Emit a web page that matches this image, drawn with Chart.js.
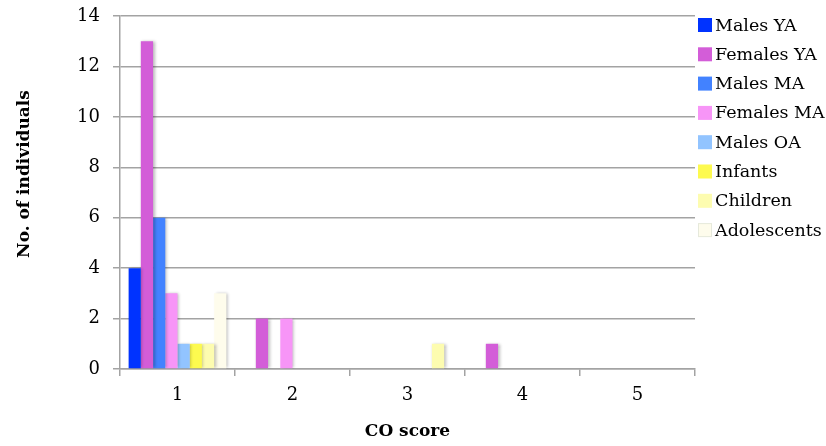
<!DOCTYPE html>
<html>
<head>
<meta charset="utf-8">
<script src="https://cdn.jsdelivr.net/npm/chart.js@4"></script>
<style>
  body { margin: 0; background: #fff; }
</style>
</head>
<body>
<canvas id="coChart" width="826" height="446"></canvas>
<script>
// CO score categories
const scores = ['1', '2', '3', '4', '5'];
const seriesNames = ['Males YA', 'Females YA', 'Males MA', 'Females MA', 'Males OA', 'Infants', 'Children', 'Adolescents'];
const seriesColors = ['#0033ff', '#d35dd8', '#4282ff', '#f795f7', '#92c4ff', '#fdfa4f', '#fdfcb0', '#fefcec'];

const malesYA = [4, 0, 0, 0, 0];
const femalesYA = [13, 2, 0, 1, 0];
const malesMA = [6, 0, 0, 0, 0];
const femalesMA = [3, 2, 0, 0, 0];
const malesOA = [1, 0, 0, 0, 0];
const infants = [1, 0, 0, 0, 0];
const children = [1, 0, 1, 0, 0];
const adolescents = [3, 0, 0, 0, 0];
const seriesValues = [malesYA, femalesYA, malesMA, femalesMA, malesOA, infants, children, adolescents];

const FONT = "'DejaVu Serif', serif";
const GRID = '#a3a3a3';

// soft shadow like the spreadsheet bars
const barShadow = {
    id: 'barShadow',
    beforeDatasetsDraw(chart) {
        const ctx = chart.ctx;
        ctx.save();
        ctx.shadowColor = 'rgba(0,0,0,0.28)';
        ctx.shadowBlur = 3;
        ctx.shadowOffsetX = 1.5;
        ctx.shadowOffsetY = 0;
    },
    afterDatasetsDraw(chart) {
        chart.ctx.restore();
    }
};

// axis titles + legend drawn by hand
const extras = {
    id: 'extras',
    afterDraw(chart) {
        const ctx = chart.ctx;
        ctx.save();
        ctx.fillStyle = '#000';
        ctx.font = 'bold 17px ' + FONT;
        ctx.textAlign = 'center';
        ctx.textBaseline = 'middle';
        ctx.fillText('CO score', (chart.chartArea.left + chart.chartArea.right) / 2, 432);
        ctx.save();
        ctx.translate(25, 174);
        ctx.rotate(-Math.PI / 2);
        ctx.fillText('No. of individuals', 0, 0);
        ctx.restore();

        ctx.font = '17.5px ' + FONT;
        ctx.textAlign = 'left';
        chart.data.datasets.forEach(function(ds, i) {
            const cy = 25 + i * 29.3;
            ctx.fillStyle = ds.backgroundColor;
            ctx.fillRect(698, cy - 7, 14, 14);
            if (i === 7) {
                ctx.strokeStyle = '#e6e9dc';
                ctx.lineWidth = 1;
                ctx.strokeRect(698.5, cy - 6.5, 13, 13);
            }
            ctx.fillStyle = '#000';
            ctx.fillText(ds.label, 715, cy + 1);
        });
        ctx.restore();
    }
};

const ctx = document.getElementById('coChart').getContext('2d');

new Chart(ctx, {
    type: 'bar',
    data: {
        labels: scores,
        datasets: seriesNames.map(function(name, i) {
            return {
                label: name,
                data: seriesValues[i],
                backgroundColor: seriesColors[i],
                borderWidth: 0,
                categoryPercentage: 0.85,
                barPercentage: 1.0
            };
        })
    },
    options: {
        responsive: false,
        animation: false,
        layout: {
            padding: { left: 0, top: 16, right: 131, bottom: 0 }
        },
        plugins: {
            legend: { display: false },
            tooltip: { enabled: false }
        },
        scales: {
            x: {
                offset: true,
                grid: {
                    offset: true,
                    drawOnChartArea: false,
                    tickLength: 7,
                    color: GRID,
                    lineWidth: 1.5
                },
                border: { color: GRID, width: 1.5 },
                ticks: {
                    color: '#000',
                    padding: 9,
                    font: { family: FONT, size: 18 }
                },
                afterFit: function(scale) {
                    scale.height = 77;
                    scale.paddingLeft = 0;
                    scale.paddingRight = 0;
                }
            },
            y: {
                min: 0,
                max: 14,
                ticks: {
                    stepSize: 2,
                    color: '#000',
                    padding: 13,
                    font: { family: FONT, size: 18 }
                },
                grid: {
                    tickLength: 7,
                    color: GRID,
                    lineWidth: 1.5
                },
                border: { color: GRID, width: 1.5 },
                afterFit: function(scale) {
                    scale.width = 120;
                    scale.paddingTop = 0;
                    scale.paddingBottom = 0;
                }
            }
        }
    },
    plugins: [barShadow, extras]
});
</script>
</body>
</html>
